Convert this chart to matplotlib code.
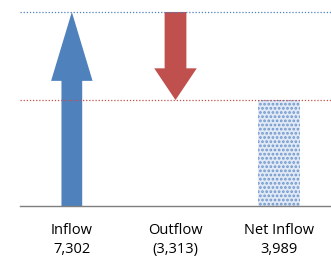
import matplotlib
matplotlib.use("Agg")
import matplotlib.pyplot as plt
from matplotlib.patches import FancyArrow

categories = ["Inflow", "Outflow", "Net Inflow"]
values = [7302, -3313, 3989]
value_labels = ["7,302", "(3,313)", "3,989"]

blue = "#4F81BD"
red = "#C0504D"

plt.rcParams['font.family'] = ['Open Sans', 'DejaVu Sans']
fig = plt.figure(figsize=(3.31, 2.61), dpi=100)
ax = fig.add_axes([20/331, 55/261, 311/331, 200/261])

inflow, outflow, net = values
# Inflow arrow
ax.add_patch(FancyArrow(0, 0, 0, inflow, width=0.2, head_width=0.4,
                        head_length=inflow*0.355, length_includes_head=True,
                        color=blue, lw=0))
# Outflow arrow
ax.add_patch(FancyArrow(1, inflow, 0, outflow, width=0.21, head_width=0.41,
                        head_length=-outflow*0.36, length_includes_head=True,
                        color=red, lw=0))
# Net inflow bar
plt.rcParams['hatch.linewidth'] = 1.3
ax.bar(2, net, width=0.4, color="#e0e9f5", edgecolor="#6f97cc", hatch="....", lw=0)

ax.axhline(inflow, color=blue, ls=(0, (1, 1.5)), lw=0.9)
ax.axhline(net, color=red, ls=(0, (1, 1.5)), lw=0.9)

ax.set_xlim(-0.5, 2.5)
ax.set_ylim(0, 7302 * 200 / 194)
for s in ["top", "right", "left"]:
    ax.spines[s].set_visible(False)
ax.spines["bottom"].set_color("#7f7f7f")
ax.spines["bottom"].set_linewidth(1)
ax.set_yticks([])
ax.set_xticks(range(len(categories)))
ax.set_xticklabels([f"{c}\n{v}" for c, v in zip(categories, value_labels)],
                   fontsize=10.5, linespacing=1.4)
ax.tick_params(axis='x', length=0, pad=12)

fig.savefig("out.png", dpi=100)
